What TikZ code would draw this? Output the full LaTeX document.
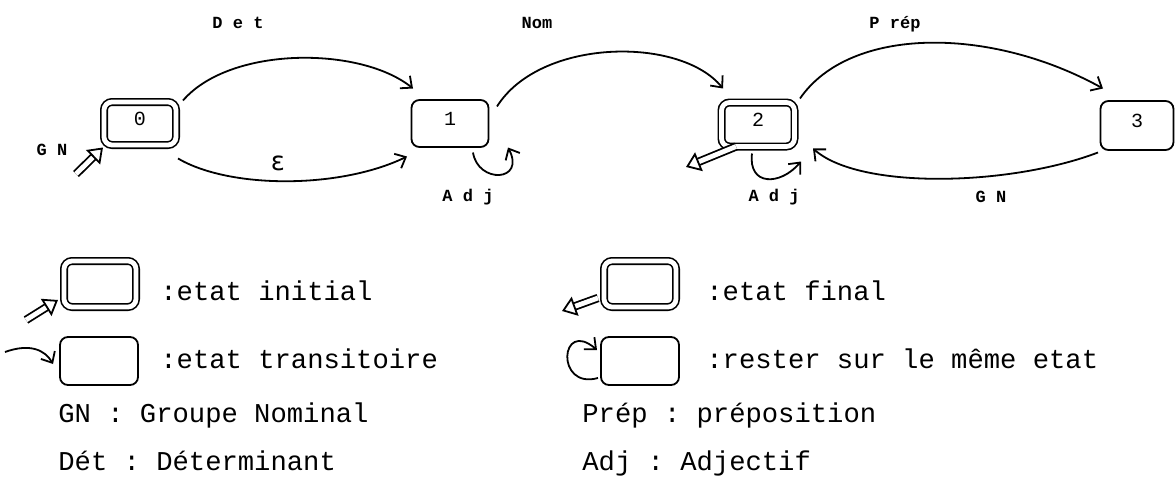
\documentclass[tikz,border=0pt]{standalone}
\usepackage{fontspec}
\setmonofont{Liberation Mono}
\newfontfamily\symfont{DejaVu Sans}
\usetikzlibrary{arrows.meta}
\begin{document}
\begin{tikzpicture}[x=0.5pt,y=-0.5pt,
  stateb/.style={draw, rounded corners=4pt, line width=0.9pt, inner sep=0pt,
    font=\ttfamily\fontsize{10}{10}\selectfont, text height=7pt, text depth=5pt},
  accept/.style={stateb, double, double distance=2.4pt, line width=0.8pt},
  edge/.style={line width=0.9pt, -{Straight Barb[length=4.5pt,width=8pt]}},
  hollow/.style={double, double distance=2.4pt, line width=0.9pt,
    -{Triangle[open, length=7pt, width=10pt, line width=0.9pt]}},
  lbl/.style={font=\ttfamily\bfseries\fontsize{8.5}{8.5}\selectfont},
  legend/.style={anchor=base west, inner sep=0pt, font=\ttfamily\fontsize{13.6}{13.6}\selectfont}]
\useasboundingbox (0,0) rectangle (1175,482);

% states of the automaton
\node[accept, minimum width=36pt, minimum height=21.5pt] (s0) at (140,123.5) {0};
\node[stateb, minimum width=38.5pt, minimum height=23.5pt] (s1) at (450,123.5) {1};
\node[accept, minimum width=36.5pt, minimum height=22pt] (s2) at (758,124.5) {2};
\node[stateb, minimum width=36.5pt, minimum height=24.5pt] (s3) at (1137,125.5) {3};

% transitions
\draw[edge] ([shift={(43,-23)}]s0.center) .. controls (230,46) and (360,46) .. ([shift={(-37,-35)}]s1.center);
\draw[edge] ([shift={(38,35)}]s0.center) .. controls (230,189) and (340,189) .. ([shift={(-43,33)}]s1.center);
\draw[edge] ([shift={(47,-17)}]s1.center) .. controls (540,38) and (680,36) .. ([shift={(-35,-36)}]s2.center);
\draw[edge] ([shift={(23,29)}]s1.center) .. controls (478,184) and (526,182) .. ([shift={(58,24)}]s1.center);
\draw[edge] ([shift={(-6,29)}]s2.center) .. controls (748,186) and (780,186) .. ([shift={(43,37)}]s2.center);
\draw[edge] ([shift={(42,-26)}]s2.center) .. controls (850,26) and (990,26) .. ([shift={(-34,-37)}]s3.center);
\draw[edge] ([shift={(-39,27)}]s3.center) .. controls (1010,186) and (860,190) .. ([shift={(55,24)}]s2.center);

% initial and final markers
\coordinate (in0) at (76,174);
\coordinate (out2) at (686,167);
\draw[hollow] (in0) -- ([shift={(-37,24)}]s0.center);
\draw[hollow] ([shift={(-22,22)}]s2.center) -- (out2);

% labels
\node[lbl] (lDet) at (238,23) {D e t};
\node[lbl] (lNom) at (537,23) {Nom};
\node[lbl] (lPrep) at (895,24) {P rép};
\node[font=\symfont\fontsize{13}{13}\selectfont] (lEps) at (278,163) {ε};
\node[lbl] (lAdj1) at (468,197) {A d j};
\node[lbl] (lAdj2) at (774,197) {A d j};
\node[lbl] (lGN3) at (991,197) {G N};
\node[lbl] (lGN0) at (52,150) {G N};

% legend
\node[accept, minimum width=36pt, minimum height=23pt] (li) at (100,284) {};
\node[accept, minimum width=36pt, minimum height=23pt] (lf) at (640,284) {};
\node[stateb, minimum width=39pt, minimum height=24pt] (lt) at (99,361) {};
\node[stateb, minimum width=39pt, minimum height=24pt] (lr) at (640,361) {};

\coordinate (lin) at (26,320);
\coordinate (lout) at (562,311);
\coordinate (ltr) at (5,352);
\draw[hollow] (lin) -- ([shift={(-42,16)}]li.center);
\draw[hollow] ([shift={(-42,14)}]lf.center) -- (lout);
\draw[edge] (ltr) .. controls (30,343) and (45,350) .. ([shift={(-46,3)}]lt.center);
\draw[edge] ([shift={(-42,17)}]lr.center) .. controls (555,390) and (560,318) .. ([shift={(-43,-11)}]lr.center);

\node[legend] (t1) at (160,300) {:etat initial};
\node[legend] (t2) at (706,300) {:etat final};
\node[legend] (t3) at (160,368) {:etat transitoire};
\node[legend] (t4) at (706,368) {:rester sur le même etat};
\node[legend] (t5) at (58,422) {GN : Groupe Nominal};
\node[legend] (t6) at (582,422) {Prép : préposition};
\node[legend] (t7) at (58,470) {Dét : Déterminant};
\node[legend] (t8) at (582,470) {Adj : Adjectif};
\end{tikzpicture}
\end{document}
